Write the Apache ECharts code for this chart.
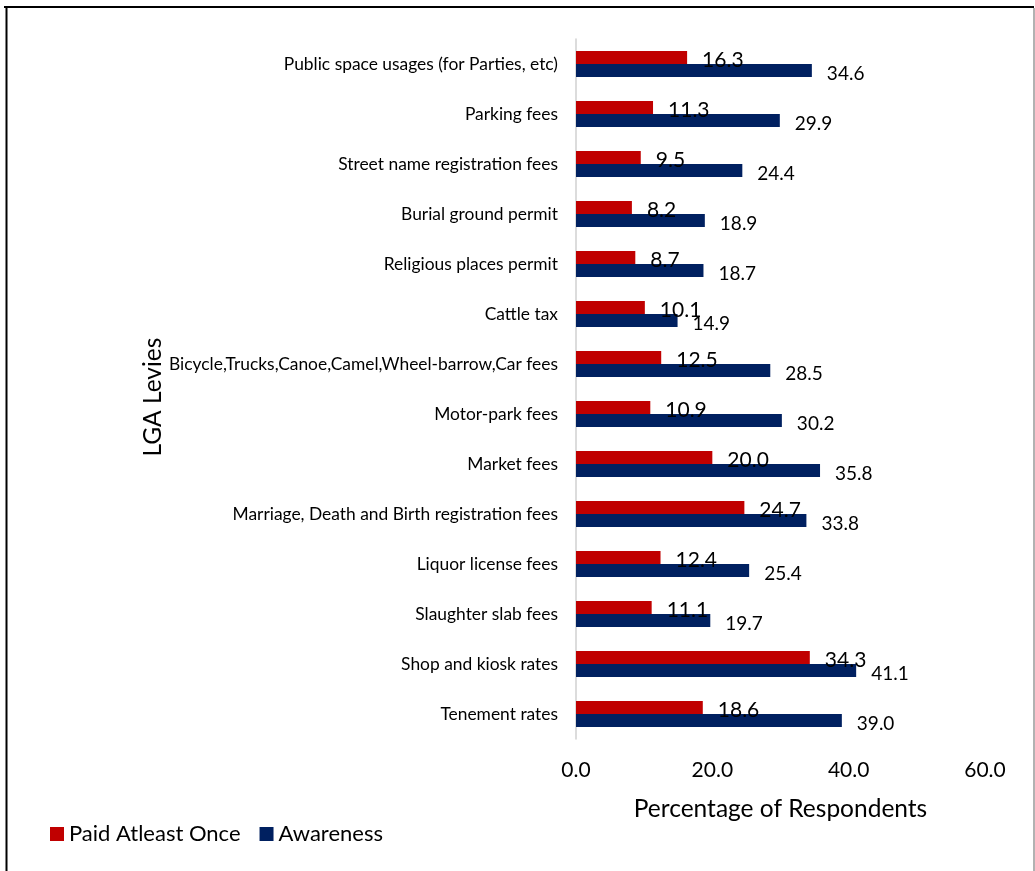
<!DOCTYPE html>
<html>
<head>
<meta charset="utf-8">
<script src="https://cdn.jsdelivr.net/npm/echarts@6/dist/echarts.min.js"></script>
<style>
html,body{margin:0;padding:0;background:#fff;}
#chart{width:1035px;height:871px;}
</style>
</head>
<body>
<div id="chart"></div>
<script>
const categories = [
  "Public space usages (for Parties, etc)",
  "Parking fees",
  "Street name registration fees",
  "Burial ground permit",
  "Religious places permit",
  "Cattle tax",
  "Bicycle,Trucks,Canoe,Camel,Wheel-barrow,Car fees",
  "Motor-park fees",
  "Market fees",
  "Marriage, Death and Birth registration fees",
  "Liquor license fees",
  "Slaughter slab fees",
  "Shop and kiosk rates",
  "Tenement rates"
];
const paidAtleastOnce = [16.3, 11.3, 9.5, 8.2, 8.7, 10.1, 12.5, 10.9, 20.0, 24.7, 12.4, 11.1, 34.3, 18.6];
const awareness = [34.6, 29.9, 24.4, 18.9, 18.7, 14.9, 28.5, 30.2, 35.8, 33.8, 25.4, 19.7, 41.1, 39.0];

const FONT = 'Lato';
const chart = echarts.init(document.getElementById('chart'), null, {renderer: 'canvas'});
chart.setOption({
  animation: false,
  textStyle: {fontFamily: FONT, color: '#000'},
  grid: {left: 576, right: 50, top: 39, bottom: 132, containLabel: false},
  legend: {
    left: 45, top: 818,
    icon: 'rect', itemWidth: 14, itemHeight: 14, itemGap: 19,
    textStyle: {fontFamily: FONT, fontSize: 22, color: '#000'},
    data: ['Paid Atleast Once', 'Awareness']
  },
  xAxis: {
    type: 'value', min: 0, max: 60, interval: 20,
    axisLine: {show: false}, axisTick: {show: false}, splitLine: {show: false},
    axisLabel: {fontFamily: FONT, fontSize: 21, color: '#000', margin: 21,
      formatter: v => v.toFixed(1)},
    name: 'Percentage of Respondents', nameLocation: 'middle', nameGap: 58,
    nameTextStyle: {fontFamily: FONT, fontSize: 24.5, color: '#000'}
  },
  yAxis: {
    type: 'category', data: categories, inverse: true,
    axisLine: {show: true, lineStyle: {color: '#d0d0d0', width: 1.5}},
    axisTick: {show: false}, splitLine: {show: false},
    axisLabel: {fontFamily: FONT, fontSize: 17.4, color: '#000', margin: 18},
    name: 'LGA Levies', nameLocation: 'middle', nameGap: 410, nameRotate: 90,
    nameTextStyle: {fontFamily: FONT, fontSize: 24.5, color: '#000', padding: [0, 16, 0, 0]}
  },
  series: [
    {
      name: 'Paid Atleast Once', type: 'bar', data: paidAtleastOnce,
      barWidth: 13, barGap: '0%',
      itemStyle: {color: '#C00000'},
      label: {show: true, position: 'right', distance: 15, offset: [0, 3],
        fontFamily: FONT, fontSize: 21, color: '#000', formatter: p => p.value.toFixed(1)}
    },
    {
      name: 'Awareness', type: 'bar', data: awareness,
      barWidth: 13, barGap: '0%',
      itemStyle: {color: '#002060'},
      label: {show: true, position: 'right', distance: 15, offset: [0, 3],
        fontFamily: FONT, fontSize: 19, color: '#000', formatter: p => p.value.toFixed(1)}
    }
  ],
  graphic: [
    {type: 'line', silent: true, shape: {x1: 4, y1: 7, x2: 1034, y2: 7}, style: {stroke: '#000', lineWidth: 2}},
    {type: 'line', silent: true, shape: {x1: 6.5, y1: 6, x2: 6.5, y2: 871}, style: {stroke: '#000', lineWidth: 2}},
    {type: 'line', silent: true, shape: {x1: 1034, y1: 8, x2: 1034, y2: 871}, style: {stroke: '#999', lineWidth: 1.5}}
  ]
});
</script>
</body>
</html>
